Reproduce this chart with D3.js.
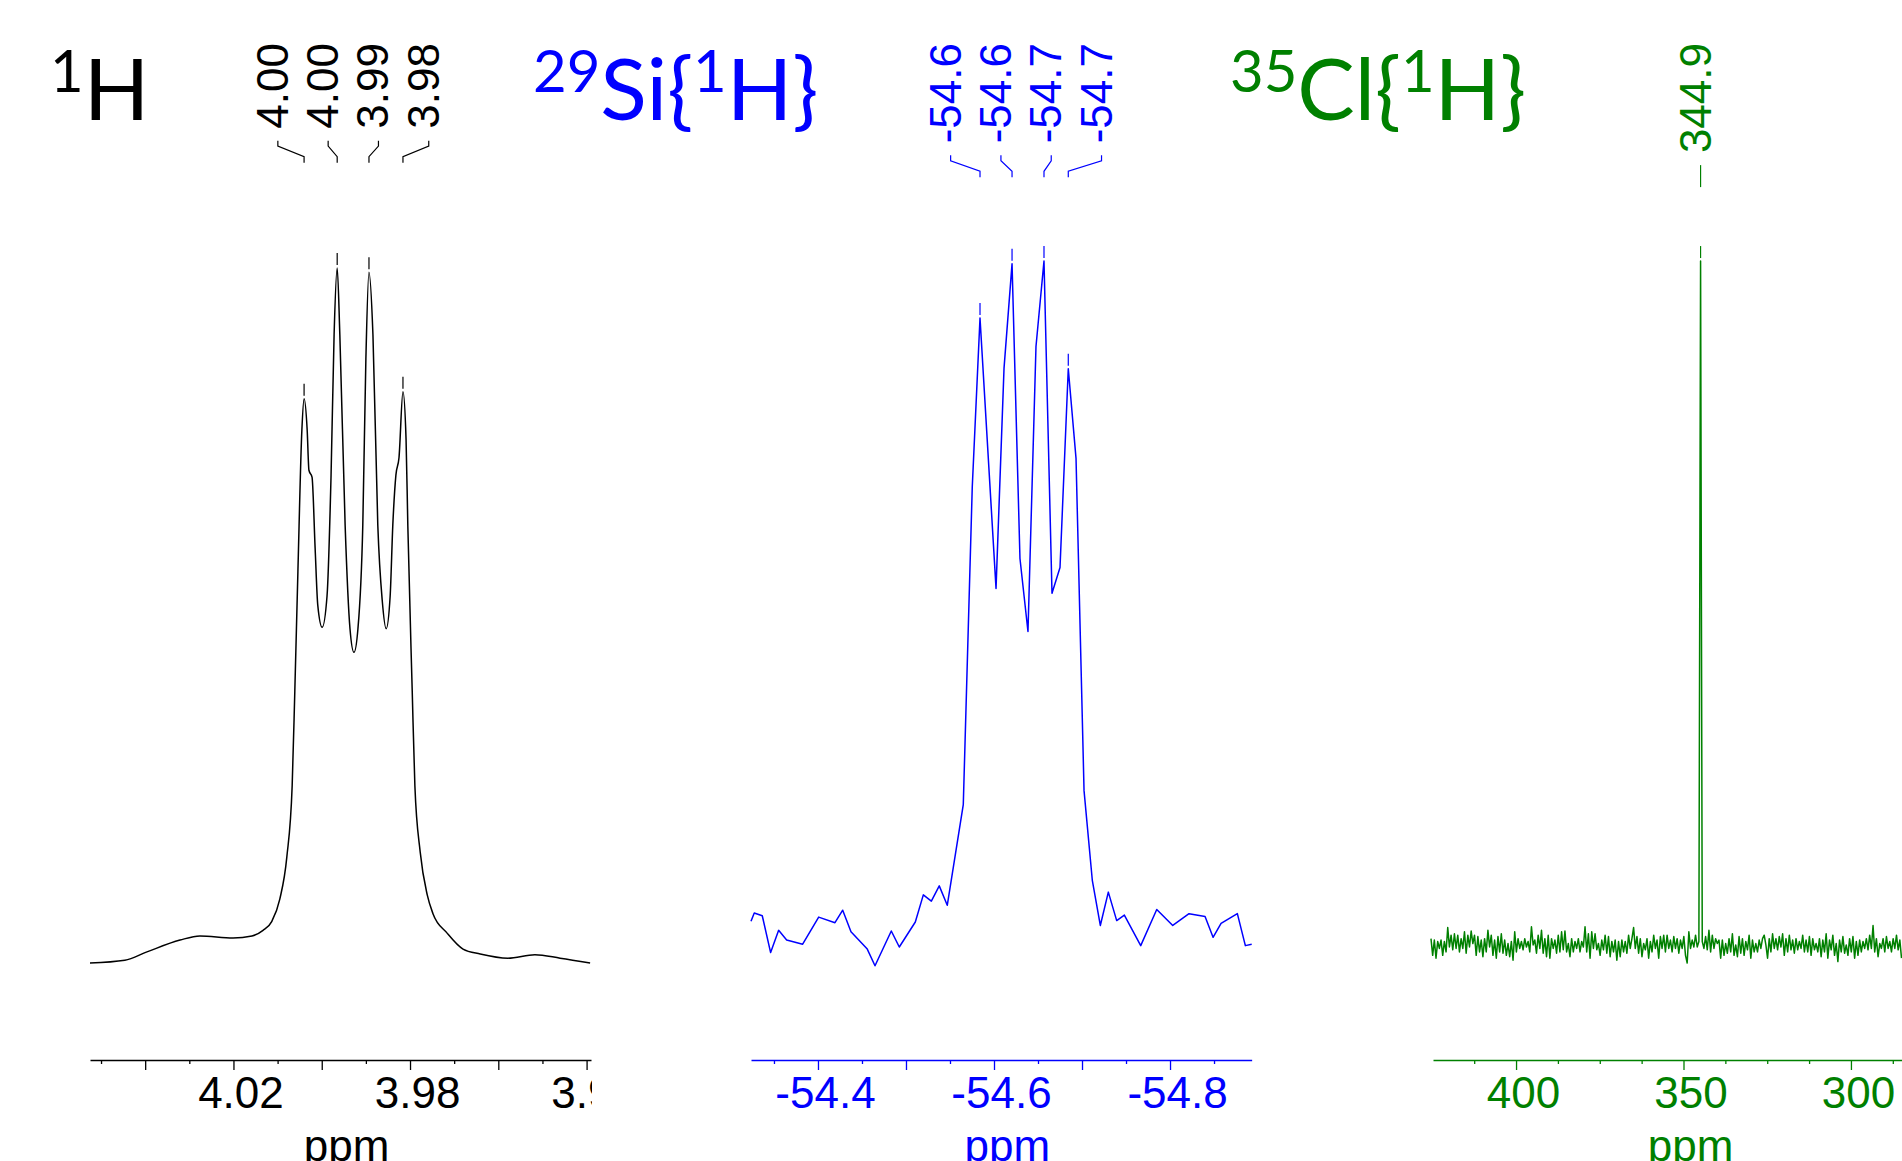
<!DOCTYPE html>
<html>
<head>
<meta charset="utf-8">
<script src="https://cdn.jsdelivr.net/npm/d3@7"></script>
<style>
body { margin: 0; background: #fff; }
svg { display: block; }
</style>
</head>
<body>
<svg width="1902" height="1161"></svg>
<script>
// 1H spectrum, points (ppm, % of tallest line)
const hPpm = [4.0525, 4.0446, 4.0396, 4.0321, 4.0276, 4.0201, 4.0158, 4.0133, 4.0113, 4.0095,
    4.0079, 4.0067, 4.0061, 4.0054, 4.0045, 4.0040, 4.0033, 4.0029, 4.0022, 4.0015,
    4.0009, 3.9999, 3.9988, 3.9979, 3.9972, 3.9965, 3.9959, 3.9947, 3.9936, 3.9927,
    3.9918, 3.9907, 3.9900, 3.9893, 3.9884, 3.9873, 3.9863, 3.9854, 3.9845, 3.9839,
    3.9832, 3.9825, 3.9816, 3.9809, 3.9805, 3.9795, 3.9789, 3.9777, 3.9761, 3.9748,
    3.9716, 3.9680, 3.9641, 3.9578, 3.9517, 3.9460, 3.9392]
const hInt = [0, 0.4, 1.6, 3.3, 3.9, 3.6, 3.9, 4.7, 6.0, 9.2,
    15.3, 25.5, 39.1, 56.3, 76.7, 81.2, 76.7, 70.9, 69.9, 59.7,
    51.5, 48.3, 52.8, 69.9, 90.4, 100, 90.4, 63.0, 48.1, 44.7,
    48.1, 63.0, 86.9, 99.4, 90.4, 63.0, 52.2, 48.1, 52.8, 63.0,
    70.2, 72.7, 82.2, 75.4, 63.0, 39.1, 25.5, 16.0, 9.8, 7.1,
    4.3, 2.0, 1.3, 0.7, 1.2, 0.7, 0]
const hPeaks = [4.0040, 3.9965, 3.9893, 3.9816]
const hMajor = [4.04, 4.02, 4.00, 3.98, 3.96, 3.94]
const hMinor = [4.05, 4.03, 4.01, 3.99, 3.97, 3.95]
const hLabeled = [4.02, 3.98, 3.94]

// 29Si{1H} spectrum
const siPpm = [-54.3239, -54.3276, -54.3367, -54.3462, -54.3553, -54.3644, -54.3826, -54.4008, -54.4193, -54.4281,
    -54.4375, -54.4560, -54.4648, -54.4833, -54.4924, -54.5106, -54.5197, -54.5288, -54.5378, -54.5469,
    -54.5651, -54.5753, -54.5841, -54.6023, -54.6114, -54.6205, -54.6295, -54.6386, -54.6477, -54.6568,
    -54.6659, -54.6750, -54.6844, -54.6932, -54.7023, -54.7117, -54.7208, -54.7299, -54.7394, -54.7481,
    -54.7667, -54.7849, -54.8031, -54.8216, -54.8398, -54.8489, -54.8580, -54.8765, -54.8856, -54.8928]
const siInt = [6.0, 7.2, 6.8, 1.5, 4.7, 3.3, 2.7, 6.6, 5.8, 7.6,
    4.5, 2.0, -0.4, 4.6, 2.3, 5.9, 9.8, 8.9, 11.1, 8.3,
    22.8, 68.5, 92.8, 53.9, 85.6, 100.6, 58.2, 47.7, 88.7, 101.0,
    53.2, 56.9, 85.5, 72.6, 24.8, 11.9, 5.4, 10.2, 6.1, 6.9,
    2.5, 7.7, 5.4, 7.1, 6.7, 3.7, 5.7, 7.1, 2.5, 2.7]
const siPeaks = [-54.5841, -54.6205, -54.6568, -54.6844]
const siMajor = [-54.4, -54.5, -54.6, -54.7, -54.8]
const siMinor = [-54.35, -54.45, -54.55, -54.65, -54.75, -54.85]
const siLabeled = [-54.4, -54.6, -54.8]

// 35Cl{1H} spectrum, evenly sampled from clStart downwards in clStep
const clStart = 425.4
const clStep = 0.5
const clInt = [3.5, 1.1, 3.3, 0.7, 3.1, 2.1, 3.3, 1.1, 3.1, 1.6,
    5.1, 2.3, 4.0, 1.9, 4.2, 2.1, 4.0, 1.6, 3.5, 2.1,
    4.5, 1.4, 4.0, 2.3, 4.6, 2.8, 4.0, 1.1, 3.8, 1.6,
    3.3, 0.9, 3.5, 1.6, 4.7, 2.3, 4.0, 1.1, 3.3, 0.7,
    3.8, 1.6, 4.2, 1.4, 3.3, 1.1, 2.8, 0.9, 3.1, 0.4,
    4.5, 1.6, 3.5, 2.1, 3.1, 1.9, 3.5, 2.3, 3.1, 1.6,
    5.2, 2.6, 3.3, 1.4, 4.0, 2.1, 4.7, 1.4, 3.5, 0.9,
    4.0, 0.7, 3.5, 2.1, 3.3, 1.4, 4.0, 1.6, 4.5, 1.9,
    4.6, 1.6, 2.8, 0.9, 3.5, 1.6, 3.1, 2.1, 3.5, 1.6,
    3.1, 2.3, 5.2, 1.6, 4.2, 0.7, 4.5, 2.1, 4.2, 1.9,
    2.8, 1.1, 3.3, 1.9, 4.0, 1.4, 3.8, 0.9, 3.1, 1.6,
    3.3, 0.4, 3.1, 0.9, 3.3, 1.6, 3.1, 1.4, 4.0, 2.1,
    3.5, 5.1, 2.1, 3.8, 1.4, 3.5, 0.9, 2.8, 1.9, 3.5,
    0.7, 3.1, 1.6, 4.0, 2.1, 3.3, 0.7, 3.8, 2.1, 4.0,
    1.6, 4.0, 2.1, 3.3, 1.6, 3.8, 2.1, 3.5, 1.4, 3.3,
    2.1, 3.8, 1.1, 0.0, 4.5, 2.1, 3.3, 2.3, 4.0, 2.3,
    3.1, 101, 3.1,
    2.1, 3.8, 1.9, 4.7, 1.6, 4.0, 2.1, 3.5, 2.8, 3.3,
    0.7, 3.3, 1.1, 2.8, 1.4, 3.5, 1.6, 4.2, 1.1, 2.6,
    0.9, 3.8, 1.4, 3.5, 1.1, 3.1, 1.9, 4.0, 0.7, 3.3,
    1.6, 2.8, 1.6, 3.3, 2.1, 3.5, 4.0, 2.6, 0.7, 3.5,
    1.6, 4.2, 2.1, 3.5, 1.9, 3.8, 2.3, 4.2, 1.1, 3.5,
    1.6, 4.0, 1.9, 3.3, 1.4, 3.5, 1.9, 3.1, 2.1, 4.0,
    1.6, 3.3, 1.6, 3.8, 1.1, 3.5, 1.9, 2.8, 1.6, 3.5,
    0.9, 3.3, 1.6, 4.2, 0.7, 3.3, 1.9, 4.0, 1.1, 2.8,
    0.2, 3.3, 1.6, 3.8, 1.4, 2.6, 1.1, 3.5, 1.6, 3.8,
    0.7, 3.1, 1.1, 3.3, 1.6, 3.1, 2.1, 3.5, 1.9, 4.0,
    2.1, 5.4, 1.6, 3.5, 0.9, 2.8, 2.1, 3.5, 1.6, 3.8,
    2.1, 3.1, 1.6, 3.5, 2.1, 4.0, 1.9, 3.3, 0.7]
const clPeaks = [344.9]
const clMajor = [400, 350, 300]
const clMinor = [412.5, 387.5, 375, 362.5, 337.5, 325, 312.5, 287.5]
const clLabeled = [400, 350, 300]

// titles: [text, superscript?]
const hTitle = [["1", true], ["H", false]]
const siTitle = [["29", true], ["Si{", false], ["1", true], ["H}", false]]
const clTitle = [["35", true], ["Cl{", false], ["1", true], ["H}", false]]

const axisFont = "'Liberation Sans', Arial, sans-serif"
const axisY = 1060
const svg = d3.select("svg")
const defs = svg.append("defs")
const yScale = d3.scaleLinear().domain([0, 100]).range([963, 268])

const panels = [
    { id: "h", color: "#000000", points: d3.zip(hPpm, hInt), peaks: hPeaks, digits: 2, tickDigits: 2,
      domain: [4.0525, 3.939], range: [90, 591], major: hMajor, minor: hMinor, labeled: hLabeled,
      curve: d3.curveMonotoneX, title: hTitle, titleX: 50 },
    { id: "si", color: "#0000ff", points: d3.zip(siPpm, siInt), peaks: siPeaks, digits: 1, tickDigits: 1,
      domain: [-54.3239, -54.8928], range: [751, 1251.7], major: siMajor, minor: siMinor, labeled: siLabeled,
      curve: d3.curveLinear, title: siTitle, titleX: 533 },
    { id: "cl", color: "#008000", points: clInt.map((v, i) => [clStart - i * clStep, v]), peaks: clPeaks, digits: 1, tickDigits: 0,
      domain: [424.8, 274.6], range: [1433, 1936], major: clMajor, minor: clMinor, labeled: clLabeled,
      curve: d3.curveLinear, title: clTitle, titleX: 1230 }
]

panels.forEach(drawPanel)

function drawPanel(p) {
    const x = d3.scaleLinear().domain(p.domain).range(p.range)
    const g = svg.append("g").attr("class", `panel panel-${p.id}`)

    defs.append("clipPath")
        .attr("id", `clip-${p.id}`)
        .append("rect")
        .attr("x", p.range[0] - 5)
        .attr("y", 0)
        .attr("width", p.range[1] - p.range[0] + 6)
        .attr("height", 1161)

    const body = g.append("g").attr("clip-path", `url(#clip-${p.id})`)

    body.append("path")
        .datum(p.points)
        .attr("fill", "none")
        .attr("stroke", p.color)
        .attr("stroke-width", 1.5)
        .attr("stroke-linejoin", "round")
        .attr("d", d3.line().x(d => x(d[0])).y(d => yScale(d[1])).curve(p.curve))

    body.append("g")
        .attr("transform", `translate(0,${axisY})`)
        .call(d3.axisBottom(x).tickValues(p.minor).tickSize(4).tickSizeOuter(0).tickFormat(""))
        .attr("color", p.color)
        .call(a => a.select(".domain").remove())
        .selectAll("line").attr("stroke-width", 1.3)

    const major = body.append("g")
        .attr("transform", `translate(0,${axisY})`)
        .call(d3.axisBottom(x).tickValues(p.major).tickSize(10).tickSizeOuter(0).tickPadding(7)
            .tickFormat(d => p.labeled.includes(d) ? d.toFixed(p.tickDigits) : ""))
        .attr("color", p.color)
        .attr("font-size", 44)
        .attr("font-family", axisFont)
    major.select(".domain").attr("stroke-width", 1.5)
    major.selectAll("line").attr("stroke-width", 1.3)
    major.selectAll("text").attr("dx", 7)

    svg.append("text")
        .attr("x", (p.range[0] + p.range[1]) / 2 + 6)
        .attr("y", 1161)
        .attr("text-anchor", "middle")
        .attr("fill", p.color)
        .attr("font-size", 44)
        .attr("font-family", axisFont)
        .text("ppm")

    // peak picking labels
    const peakX = p.peaks.map(v => x(v))
    const peakI = p.peaks.map(v => p.points[d3.leastIndex(p.points, d => Math.abs(d[0] - v))][1])
    const mid = d3.mean(peakX)
    const n = p.peaks.length
    const labels = g.append("g").attr("class", "peak-labels")

    const texts = p.peaks.map((v, i) => {
        const lx = n > 1 ? mid + (i - (n - 1) / 2) * 50.3 : peakX[i]
        const t = labels.append("text")
            .attr("transform", `translate(${lx + 10},43) rotate(-90)`)
            .attr("text-anchor", "end")
            .attr("fill", p.color)
            .attr("font-size", 44)
            .attr("font-family", axisFont)
            .text(v.toFixed(p.digits))
        return { lx, t }
    })
    const top = 43 + d3.max(texts, d => d.t.node().getComputedTextLength()) + 12

    texts.forEach((d, i) => {
        labels.append("path")
            .attr("fill", "none")
            .attr("stroke", p.color)
            .attr("stroke-width", 1.2)
            .attr("d", `M${d.lx},${top}V${top + 5.5}L${peakX[i]},${top + 16}V${top + 22}`)

        labels.append("line")
            .attr("x1", peakX[i]).attr("x2", peakX[i])
            .attr("y1", yScale(peakI[i]) - 15)
            .attr("y2", yScale(peakI[i]) - 3)
            .attr("stroke", p.color)
            .attr("stroke-width", 1.2)
    })

    // nucleus title
    const title = svg.append("text")
        .attr("x", p.titleX)
        .attr("y", 120)
        .attr("fill", p.color)
        .attr("font-family", "Lato, 'Open Sans', sans-serif")
    let sup = false
    p.title.forEach(([s, isSup]) => {
        title.append("tspan")
            .attr("font-size", isSup ? 58 : 86)
            .attr("dy", isSup == sup ? 0 : (isSup ? -28 : 28))
            .text(s)
        sup = isSup
    })
}
</script>
</body>
</html>
